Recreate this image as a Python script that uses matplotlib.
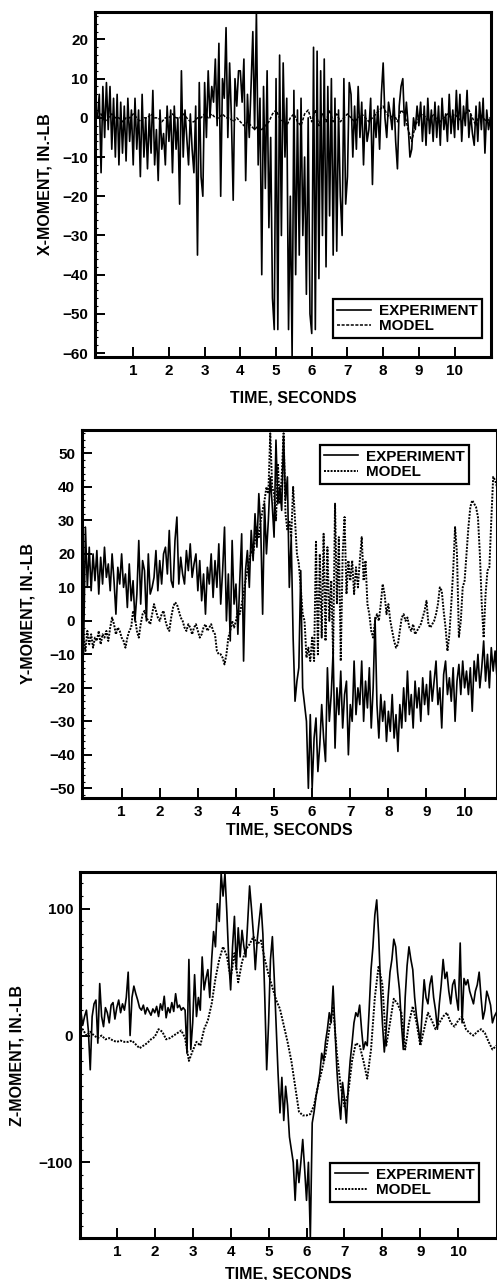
import numpy as np
import matplotlib
matplotlib.use("Agg")
import matplotlib.pyplot as plt
from matplotlib.ticker import MultipleLocator

plt.rcParams['font.family'] = ['Liberation Sans', 'DejaVu Sans']
plt.rcParams['font.weight'] = 'bold'

# ---------------- data ----------------
# experiment traces sampled every 0.05 s from 0 to 11 s
x_exp = [
    0, 6, -14, 8, -5, 9, -3, 8, -8, 5, -10, 6, -12, 4, -9, 3, -11, 5, -6, 2,
    -12, 5, -8, 2, -15, 6, -10, 0, -13, 1, -9, 7, -12, -3, -16, 2, -8, -4, -12, 3,
    -6, 2, -14, 3, -8, 0, -22, 12, -10, 2, -5, -12, 1, -8, -14, 3, -35, 9, -15, -20,
    9, -5, 12, 0, 8, 4, 15, -2, 19, -20, 10, 5, 23, -5, 14, 0, -21, 10, 3, 12,
    12, 4, 15, -16, 6, -5, 8, 22, -3, 27, -12, 5, -40, 8, -18, 12, -28, -5, -46, -54,
    10, -54, 16, -30, 14, -10, 5, -54, -20, -61, 7, -40, 2, -35, 5, -30, -10, -45, 0, -50,
    -55, 18, -54, 17, -41, 12, -30, 15, -38, 8, -25, 10, -35, 5, -34, 2, -20, -30, 10, -22,
    -15, 9, 6, -10, 3, -8, 8, -5, 4, -12, 2, -6, -3, 5, -17, 2, -5, 3, -8, 6,
    14, 0, -5, 4, 1, -3, 5, -6, -13, 3, 8, 10, -2, 4, -2, -10, -8, 0, -3, 3,
    -2, 4, -6, 3, -7, 5, -4, 2, -6, 4, -5, 3, -7, 5, -3, 1, -6, 6, -4, 2,
    -5, 7, -3, 6, -6, 3, -2, 7, -5, 1, -4, -7, 3, -6, 4, -3, 5, -9, 2, -3,
    0]
# model trace, every 0.1 s
x_model = [
    0, 1, -1, 0, 1, 0, 0, -1, 0, 0,
    1, 0, -1, 0, 0, 1, 0, 0, -1, 0,
    0, 1, 0, 0, 1, 0, -1, -1, 0, 0,
    1, 0, 1, 0, 0, 1, 0, 0, -1, 0,
    -1, -2, -1, -2, -3, -2, -3, -2, -1, 1,
    2, 0, -1, -2, 0, 1, -1, -2, 1, 2,
    -1, 2, -2, 1, -1, 2, -1, 1, -1, 0,
    1, 0, -1, 0, 1, 0, -1, 0, 1, 2,
    3, 1, 0, 1, -1, 2, 1, -3, -6, -2,
    0, 1, 0, -1, 1, 0, -1, 0, 1, 0,
    1, 0, -1, 1, 2, 0, -2, 1, 0, -1, 0]

y_exp = [
    -10, 28, 10, 22, 9, 20, 12, 21, 8, 19, 11, 22, 13, 17, 9, 20, 12, 2, 16, 11,
    20, 10, 14, 4, 17, 6, 12, 0, 8, 24, 5, 18, 15, 0, 20, 8, 10, 13, 21, 9,
    18, 11, 20, 22, 14, 27, 12, 10, 24, 31, 11, 19, 14, 11, 21, 15, 23, 13, 17, 20,
    9, 18, 6, 14, 2, 16, 11, 20, 7, 18, 10, 23, 5, 15, 28, 0, 14, -6, 24, 5,
    11, -4, 12, 26, -12, 15, 21, 10, 27, 18, 32, 22, 38, 28, 2, 35, 20, 30, 43, 35,
    25, 54, 35, 40, 33, 55, 36, 43, 10, 25, -5, -24, -18, -14, 15, -20, -25, -30, -50, -28,
    -50, -35, -29, -45, -37, -25, -35, -42, -14, -30, -22, -9, -38, -20, -28, -15, -32, -22, -18, -40,
    -25, -30, -12, -28, -20, -25, -12, -30, -18, -26, -14, -32, -20, 1, -25, -35, -22, -30, -24, -36,
    -27, -33, -22, -35, -28, -39, -25, -32, -20, -30, -15, -28, -22, -32, -18, -26, -20, -30, -17, -25,
    -19, -28, -15, -24, -18, -12, -25, -20, -32, -16, -12, -22, -17, -24, -14, -30, -18, -13, -22, -12,
    -20, -15, -22, -14, -27, -12, -18, -10, -20, -14, -6, -18, -10, -20, -8, -15, -9, -17, -12, -14,
    -10]
y_model = [
    -5, -9, -3, -7, -4, -8, -5, -6, -3, -7, -4, -5, -3, -6, -2, 1, -1, -4, -2, -3,
    -5, -6, -8, -5, -3, -2, 3, 1, -3, -5, -1, 2, 3, 1, 0, -1, 2, 5, 3, 1,
    0, 2, 3, 0, -2, -3, 1, 4, 5.5, 5, 3, 1, 0, -2, -3, -1, -2, -4, -2, -1,
    -3, -5, -4, -2, -1, -3, -2, -1, -3, -4, -9, -10, -10, -11, -13, -10, -5, -3, 0, -2,
    0, 3, 2, 5, 8, 12, 15, 18, 21, 20, 24, 28, 25, 30, 33, 36, 40, 38, 56, 40,
    38, 30, 47, 35, 43, 56, 32, 27, 30, 25, 40, 30, 20, 17, 10, 2, 0, -11, -8, -12,
    -5, -12, 24, -10, 20, -5, 26, -6, 22, 0, 12, -10, 35, 5, 25, -12, 20, 31, 8, 18,
    12, 18, 8, 16, 10, 18, 25, 12, 18, 5, 2, -3, -5, 0, 2, 0, 5, 11, 8, 2,
    5, 0, -3, -6, -8, -7, -3, 1, 2, 0, 1, -2, -3, -1, -4, -3, -2, -1, 1, 3,
    6, -1, -2, -1, 0, 2, 5, 10, 9, 3, -2, -9, -4, 5, 15, 28, 20, -5, 0, 10,
    12, 20, 28, 34, 36, 35, 34, 31, 20, 5, -5, 8, 15, 16, 30, 43, 42, 40, 38, 36,
    35]

z_exp = [
    0, 20, 8, 15, 20, 4, -27, 15, 25, 28, -6, 41, 15, 7, 22, 18, 10, 24, 26, 13,
    22, 28, 18, 25, 20, 30, 50, 0, 30, 39, 33, 28, 22, 20, 24, 17, 22, 19, 16, 21,
    18, 23, 15, 25, 20, 31, 14, 22, 18, 26, 19, 33, 22, 24, 20, 22, 20, -14, 60, -11,
    10, 48, 15, 30, 20, 62, 36, 45, 52, 30, 60, 82, 70, 104, 90, 128, 110, 128, 97, 60,
    36, 70, 94, 52, 85, 62, 83, 70, 62, 90, 118, 100, 80, 52, 75, 90, 104, 80, 30, -27,
    10, 60, 78, 45, 7, -30, -61, -33, -67, -40, -55, -80, -90, -100, -130, -98, -116, -100, -82, -105,
    -130, -100, -160, -69, -60, -48, -40, -30, -14, -20, -5, 5, 18, 10, 39, 5, -27, -50, -66, -37,
    -50, -69, -40, -20, -6, 10, 18, 15, 24, 5, -11, -5, -8, 20, 52, 70, 95, 107, 80, 40,
    10, -13, 5, 30, 50, 60, 76, 70, 50, 36, 10, -11, 30, 55, 70, 60, 52, 30, 15, 5,
    -6, 20, 44, 30, 25, 40, 47, 30, 20, 5, 25, 40, 60, 45, 50, 35, 25, 40, 44, 30,
    20, 73, 10, 45, 40, 44, 35, 30, 25, 35, 40, 50, 30, 13, 20, 35, 30, 24, 10, 15,
    18]
z_model = [
    0, 5, 0, 3, 0, -2, 0, -3, -2, -4,
    -5, -4, -5, -5, -4, -7, -10, -8, -6, -3,
    -1, 5, 3, -3, -2, 0, 2, 4, -2, -20,
    -12, -5, -8, 5, 12, 25, 45, 60, 70, 63,
    45, 65, 42, 58, 68, 72, 78, 72, 75, 60,
    48, 38, 28, 21, 8, -5, -20, -40, -60, -63,
    -63, -62, -55, -40, -28, -15, 5, 23, -14, -40,
    -56, -45, -20, -6, -8, -20, -34, -11, 30, 55,
    40, -8, 10, 29, 25, 18, -11, 10, 23, 10,
    -8, 5, 18, 12, 5, 10, 15, 18, 10, 7,
    12, 15, 5, 2, 0, 3, 5, 2, -5, -11, -8]

x_ticks = [1, 2, 3, 4, 5, 6, 7, 8, 9, 10]

# ---------------- figure ----------------
W, H = 497, 1280
fig = plt.figure(figsize=(W / 100, H / 100), dpi=100)

FS_TICK = 11
FS_LAB = 11.5
FS_LEG = 11


def axes_px(left, top, right, bottom):
    return fig.add_axes([left / W, 1 - bottom / H, (right - left) / W, (bottom - top) / H])


def style(ax, ylab, xlim, ylim, yticks, yminor, ylabx, xlaby):
    ax.set_xlim(*xlim)
    ax.set_ylim(*ylim)
    ax.set_xticks(x_ticks)
    ax.set_xticklabels([str(v) for v in x_ticks])
    ax.set_yticks(yticks)
    ax.yaxis.set_minor_locator(MultipleLocator(yminor))
    ax.tick_params(axis='both', which='major', direction='in', length=7, width=1.4,
                   labelsize=FS_TICK, pad=5)
    ax.tick_params(axis='y', which='minor', direction='in', length=2.5, width=0.8)
    ax.tick_params(axis='x', which='minor', bottom=False)
    ax.tick_params(top=False, right=False)
    for lab in ax.get_xticklabels() + ax.get_yticklabels():
        lab.set_fontweight('bold')
    for s in ax.spines.values():
        s.set_linewidth(2.2)
    ax.set_ylabel(ylab, fontsize=FS_LAB, fontweight='bold')
    ax.set_xlabel('TIME, SECONDS', fontsize=FS_LAB, fontweight='bold')
    ax.yaxis.set_label_coords(ylabx, 0.5)
    ax.xaxis.set_label_coords(0.5, xlaby)


def legend(ax, anchor, loc):
    lg = ax.legend(loc=loc, bbox_to_anchor=anchor, frameon=True, fancybox=False,
                   edgecolor='black', prop={'weight': 'bold', 'size': FS_LEG},
                   handlelength=2.2, handletextpad=0.5, borderpad=0.3,
                   labelspacing=0.1, borderaxespad=0, framealpha=1)
    lg.get_frame().set_linewidth(1.6)
    return lg


t_exp = np.linspace(0, 11, len(x_exp))
t_mod10 = np.linspace(0, 11, len(x_model))
t_ymod = np.linspace(0, 11, len(y_model))

LW_EXP = 1.2
dash_x = (0, (2.0, 1.0))
dot_yz = (0, (1.0, 0.7))

# Panel 1: X-moment
ax1 = axes_px(95, 12, 491, 357)
ax1.plot(t_exp, x_exp, color='black', lw=LW_EXP, label='EXPERIMENT')
ax1.plot(t_mod10, x_model, color='black', lw=1.1, ls=dash_x, label='MODEL')
style(ax1, 'X-MOMENT, IN.-LB', (-0.07, 11.02), (-61, 27),
      [-60, -50, -40, -30, -20, -10, 0, 10, 20], 2, -0.108, -0.098)
legend(ax1, (0.977, 0.055), 'lower right')

# Panel 2: Y-moment
ax2 = axes_px(82, 430, 497, 798)
ax2.plot(t_exp, y_exp, color='black', lw=LW_EXP, label='EXPERIMENT')
ax2.plot(t_ymod, y_model, color='black', lw=1.4, ls=dot_yz, label='MODEL')
style(ax2, 'Y-MOMENT, IN.-LB', (-0.04, 10.85), (-52.9, 57),
      [-50, -40, -30, -20, -10, 0, 10, 20, 30, 40, 50], 2, -0.111, -0.066)
legend(ax2, (0.573, 0.959), 'upper left')

# Panel 3: Z-moment
ax3 = axes_px(80, 872, 497, 1238)
ax3.plot(t_exp, z_exp, color='black', lw=LW_EXP, label='EXPERIMENT')
ax3.plot(t_mod10, z_model, color='black', lw=1.4, ls=dot_yz, label='MODEL')
style(ax3, 'Z-MOMENT, IN.-LB', (0.03, 11.02), (-159.7, 129),
      [-100, 0, 100], 10, -0.134, -0.078)
legend(ax3, (0.6, 0.099), 'lower left')

fig.savefig('out.png', dpi=100, facecolor='white')
